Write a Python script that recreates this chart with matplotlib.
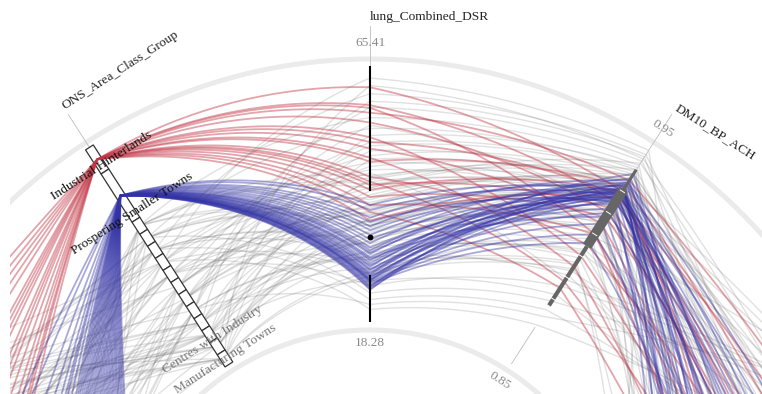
import numpy as np
import matplotlib
matplotlib.use("Agg")
import matplotlib.pyplot as plt
from matplotlib.patches import Rectangle

# ---- data -------------------------------------------------------------
lung_range = [18.28, 65.41]
dm10_range = [0.85, 0.95]
lung_box = [18.28, 26.9, 33.9, 42.4, 65.41]      # min, q1, median, q3, max
dm10_box = [0.877, 0.9045, 0.931, 0.940]         # low whisker, q1, q3, high whisker
dm10_ticks = [0.88, 0.89, 0.90, 0.91, 0.92, 0.93]

ons_groups = ["Industrial Hinterlands", "Prospering Smaller Towns",
              "Coastal and Countryside", "Prospering Southern England",
              "New and Growing Towns", "Thriving London Periphery",
              "London Suburbs", "London Centre", "London Cosmopolitan",
              "Regional Centres", "Accessible Countryside", "Seaside Towns",
              "Centres with Industry", "Manufacturing Towns"]
ons_counts = [24, 48, 12, 12, 12, 12, 12, 12, 12, 12, 12, 12, 12, 12]

# Industrial Hinterlands (red)
red_prev = [0.95, 0.82, 0.6, 0.9, 0.5, 0.72, 0.45, 0.66, 0.55, 0.86, 0.48, 0.7, 0.52, 0.62, 0.78, 0.58, 0.68, 0.47]
red_lung = [61.5, 58.2, 57.7, 56.8, 55.0, 52.3, 51.4, 50.2, 48.5, 47.8, 45.0, 44.1, 43.5, 42.6, 41.3, 39.8, 38.5, 36.9]
red_dm10 = [0.93, 0.925, 0.91, 0.935, 0.92, 0.90, 0.928, 0.915, 0.895, 0.932, 0.905, 0.888, 0.922, 0.93, 0.918, 0.91, 0.885, 0.927]
red_next = [0.45, 0.6, 0.3, 0.8, 0.5, 0.35, 0.55, 0.4, 0.25, 0.68, 0.48, 0.3, 0.58, 0.42, 0.52, 0.38, 0.2, 0.72]

# Prospering Smaller Towns (blue)
blue_prev = [0.05, 0.12, 0.2, 0.3, 0.08, 0.15, 0.25, 0.35, 0.02, 0.1, 0.18, 0.28, 0.42, 0.06, 0.14, 0.22, 0.32, 0.48,
             0.04, 0.11, 0.19, 0.27, 0.38, 0.09, 0.16, 0.24, 0.03, 0.13, 0.21, 0.33, 0.07, 0.17, 0.26, 0.52, 0.01, 0.23]
blue_lung = [39.8, 38.9, 37.5, 36.7, 35.9, 35.2, 34.3, 33.5, 32.8, 32.0, 31.5, 30.8, 30.2, 29.6, 29.1, 28.7, 28.4, 28.0,
             27.8, 27.4, 26.9, 26.6, 26.4, 26.1, 26.0, 25.7, 25.5, 25.2, 24.9, 24.7, 24.4, 24.2, 27.1, 29.9, 25.9, 31.1]
blue_dm10 = [0.93, 0.928, 0.932, 0.925, 0.935, 0.929, 0.931, 0.927, 0.934, 0.926, 0.93, 0.933, 0.924, 0.929, 0.931, 0.928,
             0.936, 0.922, 0.93, 0.927, 0.933, 0.925, 0.929, 0.932, 0.92, 0.915, 0.91, 0.906, 0.928, 0.931, 0.926, 0.934,
             0.938, 0.918, 0.93, 0.927]
blue_next = [0.3, 0.45, 0.2, 0.55, 0.35, 0.6, 0.25, 0.4, 0.5, 0.3, 0.65, 0.38, 0.22, 0.48, 0.33, 0.58, 0.42, 0.28,
             0.52, 0.36, 0.62, 0.18, 0.44, 0.31, 0.5, 0.27, 0.4, 0.34, 0.56, 0.24, 0.46, 0.7, 0.37, 0.29, 0.53, 0.41]

# all other groups (grey)
grey_cat = [2, 5, 9, 12, 3, 7, 11, 4, 8, 13, 6, 10,
            2, 4, 7, 9, 12, 3, 6, 11, 13, 5, 8, 10,
            3, 6, 9, 12, 2, 5, 8, 11, 4, 7, 10, 13,
            2, 6, 10, 3, 7, 11, 4, 8, 12, 5, 9, 13,
            2, 3, 4, 5, 6, 7, 8, 9, 10, 11, 12, 13,
            6, 8, 10, 4, 9, 3, 11, 7, 5, 12, 2, 13]
grey_prev = [0.35, 0.62, 0.18, 0.8, 0.45, 0.27, 0.7, 0.52, 0.1, 0.9, 0.38, 0.58,
             0.22, 0.67, 0.42, 0.05, 0.75, 0.31, 0.55, 0.85, 0.14, 0.48, 0.64, 0.29,
             0.72, 0.4, 0.08, 0.6, 0.33, 0.95, 0.2, 0.5, 0.78, 0.12, 0.44, 0.68,
             0.26, 0.57, 0.83, 0.36, 0.03, 0.65, 0.47, 0.16, 0.74, 0.3, 0.88, 0.53,
             0.41, 0.11, 0.69, 0.24, 0.59, 0.92, 0.34, 0.07, 0.77, 0.46, 0.19, 0.63,
             0.5, 0.28, 0.86, 0.39, 0.15, 0.71, 0.55, 0.23, 0.81, 0.43, 0.09, 0.66]
grey_lung = [34.5, 41.2, 29.8, 52.6, 38.0, 45.7, 31.4, 60.3, 36.2, 27.5, 48.9, 33.1,
             43.6, 22.4, 39.5, 57.8, 30.6, 35.9, 46.3, 25.8, 37.4, 63.2, 32.7, 44.1,
             40.8, 28.9, 54.5, 35.1, 42.9, 20.6, 38.7, 49.8, 31.9, 36.8, 58.9, 26.7,
             45.2, 33.8, 39.9, 23.6, 51.3, 37.1, 29.4, 43.0, 34.0, 47.6, 30.2, 41.7,
             55.9, 36.5, 32.3, 44.8, 24.9, 39.2, 35.6, 50.7, 28.1, 42.4, 33.4, 61.8,
             37.9, 46.9, 31.0, 40.3, 21.5, 53.9, 34.8, 38.4, 27.0, 44.5, 36.0, 48.2]
grey_dm10 = [0.918, 0.932, 0.905, 0.941, 0.926, 0.889, 0.934, 0.947, 0.912, 0.896, 0.937, 0.921,
             0.929, 0.875, 0.915, 0.944, 0.902, 0.93, 0.924, 0.882, 0.938, 0.949, 0.909, 0.927,
             0.935, 0.893, 0.922, 0.917, 0.94, 0.868, 0.928, 0.933, 0.899, 0.925, 0.946, 0.908,
             0.931, 0.914, 0.936, 0.879, 0.939, 0.92, 0.903, 0.943, 0.911, 0.926, 0.891, 0.933,
             0.942, 0.919, 0.906, 0.937, 0.886, 0.924, 0.93, 0.938, 0.897, 0.928, 0.913, 0.945,
             0.923, 0.934, 0.901, 0.929, 0.872, 0.94, 0.916, 0.927, 0.894, 0.935, 0.921, 0.931]
grey_next = [0.55, 0.3, 0.72, 0.15, 0.48, 0.85, 0.25, 0.62, 0.4, 0.08, 0.68, 0.35,
             0.9, 0.5, 0.2, 0.6, 0.33, 0.78, 0.12, 0.45, 0.7, 0.27, 0.95, 0.52,
             0.18, 0.64, 0.42, 0.82, 0.05, 0.57, 0.37, 0.74, 0.22, 0.88, 0.47, 0.14,
             0.66, 0.29, 0.58, 0.8, 0.39, 0.1, 0.53, 0.76, 0.24, 0.61, 0.44, 0.92,
             0.31, 0.69, 0.17, 0.56, 0.84, 0.26, 0.49, 0.71, 0.03, 0.63, 0.36, 0.79,
             0.46, 0.21, 0.67, 0.34, 0.87, 0.59, 0.13, 0.75, 0.41, 0.28, 0.65, 0.51]

# ---- layout -----------------------------------------------------------
W, H = 762, 394
CX, CY = 370, 584          # centre of the radial layout, pixels from top-left
RMAX = 600
R0, R1 = 262, 518          # inner / outer end of every axis
STEP = 360 / 11
th_prev, th_ons, th_lung, th_dm, th_next = [np.deg2rad(90 + k * STEP) for k in (2, 1, 0, -1, -2)]
bend = [0.1, 1.0, 0.6, 0.2]   # how much each segment follows the circle (1) vs a chord (0)
FONT = "Liberation Serif"
FS = 9.6

def scale(v, lo, hi):
    return R0 + (np.asarray(v, float) - lo) / (hi - lo) * (R1 - R0)

def trace(ths, rs, n=40):
    T, R = [], []
    for k in range(len(ths) - 1):
        t = np.linspace(0, 1, n)
        th = ths[k] + (ths[k + 1] - ths[k]) * t
        r = rs[k] + (rs[k + 1] - rs[k]) * t
        x0, y0 = rs[k] * np.cos(ths[k]), rs[k] * np.sin(ths[k])
        x1, y1 = rs[k + 1] * np.cos(ths[k + 1]), rs[k + 1] * np.sin(ths[k + 1])
        w = bend[k]
        x = w * r * np.cos(th) + (1 - w) * (x0 + (x1 - x0) * t)
        y = w * r * np.sin(th) + (1 - w) * (y0 + (y1 - y0) * t)
        T.append(np.arctan2(y, x))
        R.append(np.hypot(x, y))
    return np.concatenate(T), np.concatenate(R)

fig = plt.figure(figsize=(W / 100, H / 100), dpi=100)
ax = fig.add_axes([(CX - RMAX) / W, (H - CY - RMAX) / H, 2 * RMAX / W, 2 * RMAX / H], projection="polar")
ax.set_ylim(0, RMAX)
ax.set_axis_off()

# background rings
ring = np.linspace(0, np.pi, 400)
for rr in (525, 254):
    ax.plot(ring, np.full_like(ring, rr), color="#ebebeb", lw=3.6, solid_capstyle="butt", zorder=1)

# ONS cells
total = sum(ons_counts)
edges = 519 - np.concatenate([[0], np.cumsum(ons_counts)]) / total * (519 - 261)
centres = (edges[:-1] + edges[1:]) / 2

thetas = [th_prev, th_ons, th_lung, th_dm, th_next]

def draw_record(cat, prev, lung, dm, nxt, color, alpha, lw, z):
    rs = [scale(prev, 0, 1), centres[cat], scale(lung, *lung_range), scale(dm, *dm10_range), scale(nxt, 0, 1)]
    T, R = trace(thetas, rs)
    ax.plot(T, R, color=color, alpha=alpha, lw=lw, zorder=z, solid_capstyle="round")

for i in range(len(grey_cat)):
    draw_record(grey_cat[i], grey_prev[i], grey_lung[i], grey_dm10[i], grey_next[i], "#6a6a6a", 0.2, 1.0, 2)

# thin axis lines
for th in (th_ons, th_lung):
    ax.plot([th, th], [R1, 558], color="#bdbdbd", lw=0.6, zorder=3)
ax.plot([th_dm, th_dm], [R0, 305], color="#bdbdbd", lw=0.6, zorder=3)
ax.plot([th_dm, th_dm], [scale(dm10_box[3], *dm10_range), 558], color="#bdbdbd", lw=0.6, zorder=3)

# ONS box
hw = 4.6
for a, b in zip(edges[:-1], edges[1:]):
    corners = [(th_ons - hw / a, a), (th_ons + hw / a, a), (th_ons + hw / b, b), (th_ons - hw / b, b)]
    ax.add_patch(plt.Polygon(corners, closed=True, facecolor="white", edgecolor="#333333", lw=0.9, zorder=4))

for i in range(len(red_lung)):
    draw_record(0, red_prev[i], red_lung[i], red_dm10[i], red_next[i], "#c23646", 0.45, 1.3, 5)
for i in range(len(blue_lung)):
    draw_record(1, blue_prev[i], blue_lung[i], blue_dm10[i], blue_next[i], "#3333a6", 0.42, 1.3, 6)

# lung box plot (Tufte style)
lb = scale(lung_box, *lung_range)
ax.plot([th_lung, th_lung], [lb[0], lb[1]], color="black", lw=1.5, solid_capstyle="butt", zorder=8)
ax.plot([th_lung, th_lung], [lb[3], lb[4]], color="black", lw=1.5, solid_capstyle="butt", zorder=8)
ax.plot([th_lung], [lb[2]], "o", color="black", ms=3.2, zorder=8)

# DM10 box plot
db = scale(dm10_box, *dm10_range)
ax.plot([th_dm, th_dm], [db[0], db[1]], color="#666666", lw=3.0, solid_capstyle="butt", zorder=8)
ax.plot([th_dm, th_dm], [db[1], db[2]], color="#666666", lw=7.0, solid_capstyle="butt", zorder=8)
ax.plot([th_dm, th_dm], [db[2], db[3]], color="#666666", lw=2.2, solid_capstyle="butt", zorder=8)
for tv in dm10_ticks:
    rt = scale(tv, *dm10_range)
    ax.plot([th_dm - 2.5 / rt, th_dm + 2.5 / rt], [rt, rt], color="white", lw=0.7, zorder=9)

# axis titles
for th, name in ((th_ons, "ONS_Area_Class_Group"), (th_lung, "lung_Combined_DSR"), (th_dm, "DM10_BP_ACH")):
    ax.text(th, 564, name, rotation=np.rad2deg(th) - 90, rotation_mode="anchor",
            ha="left", va="baseline", fontsize=FS, family=FONT, color="#222222", zorder=10)

# min / max labels
for th, lo, hi in ((th_lung, "18.28", "65.41"), (th_dm, "0.85", "0.95")):
    for rr, s in ((241, lo), (541, hi)):
        ax.text(th, rr, s, rotation=np.rad2deg(th) - 90, rotation_mode="anchor",
                ha="center", va="center", fontsize=FS, family=FONT, color="#8a8a8a", zorder=10)

# category labels
label_r = {"Industrial Hinterlands": (497, "#111111"), "Prospering Smaller Towns": (440, "#111111"),
           "Centres with Industry": (291, "#777777"), "Manufacturing Towns": (268, "#777777")}
for name, (rr, col) in label_r.items():
    ax.text(th_ons, rr, name, rotation=np.rad2deg(th_ons) - 90, rotation_mode="anchor",
            ha="center", va="center", fontsize=FS, family=FONT, color=col, zorder=10)

# the original view is cut a little short on the left
fig.patches.append(Rectangle((0, 0), 10 / W, 1, transform=fig.transFigure,
                             facecolor="white", edgecolor="none", zorder=20))

fig.savefig("out.png", dpi=100)
